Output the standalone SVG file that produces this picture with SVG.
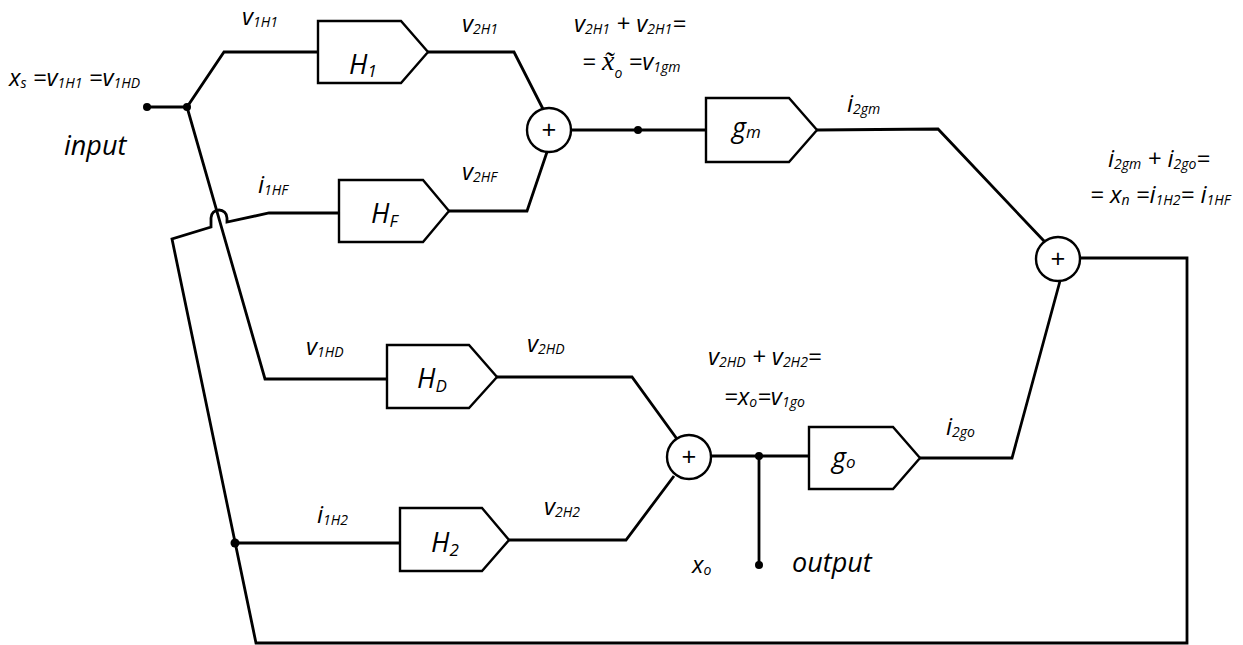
<svg xmlns="http://www.w3.org/2000/svg" width="1243" height="645" viewBox="0 0 1243 645">
<style>
.w{fill:none;stroke:#000;stroke-width:2.8;stroke-linejoin:miter}
.b{fill:#fff;stroke:#000;stroke-width:2.4}
.c{fill:#fff;stroke:#000;stroke-width:2.4}
.t{font-family:"Open Sans","Liberation Sans",sans-serif;font-style:italic;font-size:24px;fill:#000}
.s{font-size:14px}
.big{font-size:27px}
.bs{font-size:17px}
.lbl{font-family:"Open Sans","Liberation Sans",sans-serif;font-style:italic;font-size:27px;fill:#000}
.p{font-family:"Open Sans","Liberation Sans",sans-serif;font-size:26px;fill:#000;text-anchor:middle}
.ser{font-family:"Liberation Serif",serif;font-style:italic;font-size:28px}
</style>
<rect width="1243" height="645" fill="#fff"/>
<g id="connectors">
  <path class="w" d="M147,107 L187,107 L224,52 L318,52"/>
  <path class="w" d="M187,107 L265,379 L387,379"/>
  <path class="w" d="M339,213 L269,213 L227,222 L227,218 A8,8 0 0 0 211,218 L211,227 L172,239 L256,643 L1187,643 L1187,258 L1081,258"/>
  <path class="w" d="M235,543 L400,543"/>
  <path class="w" d="M428,52 L514,52 L543,109"/>
  <path class="w" d="M449,211 L527,211 L547,152"/>
  <path class="w" d="M571,130 L706,130"/>
  <path class="w" d="M817,130 L938,129 L1044,241"/>
  <path class="w" d="M920,458 L1012,458 L1060,281"/>
  <path class="w" d="M497,377 L632,377 L677,439"/>
  <path class="w" d="M509,540 L626,540 L674,476"/>
  <path class="w" d="M711,456 L809,456"/>
  <path class="w" d="M759,456 L759,565"/>
  <circle cx="147" cy="107" r="4"/>
  <circle cx="187" cy="107" r="4"/>
  <circle cx="638" cy="130" r="4"/>
  <circle cx="759" cy="456" r="4"/>
  <circle cx="759" cy="565" r="4"/>
  <circle cx="235" cy="543" r="4.5"/>
</g>
<g id="H1">
  <path class="b" d="M318,21 L401,21 L428,52 L401,83 L318,83 Z"/>
  <text class="t big" x="349" y="74">H<tspan class="bs" dy="3">1</tspan></text>
</g>
<g id="HF">
  <path class="b" d="M339,180 L423,180 L449,211 L423,242 L339,242 Z"/>
  <text class="t big" x="371" y="223">H<tspan class="bs" dy="4">F</tspan></text>
</g>
<g id="HD">
  <path class="b" d="M387,345 L469,345 L497,377 L469,408 L387,408 Z"/>
  <text class="t big" x="417" y="388">H<tspan class="bs" dy="4">D</tspan></text>
</g>
<g id="H2">
  <path class="b" d="M400,508 L482,508 L509,540 L482,571 L400,571 Z"/>
  <text class="t big" x="431" y="552">H<tspan class="bs" dy="4">2</tspan></text>
</g>
<g id="gm">
  <path class="b" d="M706,98 L789,98 L817,130 L789,162 L706,162 Z"/>
  <text class="t big" x="732" y="137">g<tspan class="bs" dy="1">m</tspan></text>
</g>
<g id="go">
  <path class="b" d="M809,427 L893,427 L920,458 L893,489 L809,489 Z"/>
  <text class="t big" x="832" y="467">g<tspan class="bs" dy="1">o</tspan></text>
</g>
<g id="sum1">
  <circle class="c" cx="549" cy="130" r="22"/>
  <text class="p" x="549" y="139">+</text>
</g>
<g id="sum2">
  <circle class="c" cx="689" cy="457" r="22"/>
  <text class="p" x="689" y="466">+</text>
</g>
<g id="sum3">
  <circle class="c" cx="1058" cy="259" r="22"/>
  <text class="p" x="1058" y="268">+</text>
</g>
<g id="labels">
  <text class="t" x="242" y="25">v<tspan class="s" dy="2">1H1</tspan></text>
  <text class="t" x="9" y="86">x<tspan class="s" dy="2">s</tspan><tspan dy="-2"> =v</tspan><tspan class="s" dy="2">1H1</tspan><tspan dy="-2"> =v</tspan><tspan class="s" dy="2">1HD</tspan></text>
  <text class="lbl" x="64" y="155">input</text>
  <text class="t" x="258" y="193">i<tspan class="s" dy="2">1HF</tspan></text>
  <text class="t" x="462" y="32">v<tspan class="s" dy="2">2H1</tspan></text>
  <text class="t" x="574" y="32">v<tspan class="s" dy="2">2H1</tspan><tspan dy="-2"> + v</tspan><tspan class="s" dy="2">2H1</tspan><tspan dy="-2">=</tspan></text>
  <text class="t" x="582" y="70">= <tspan class="ser">x&#771;</tspan><tspan class="s" dy="8">o</tspan><tspan dy="-8"> =v</tspan><tspan class="s" dy="2">1gm</tspan></text>
  <text class="t" x="462" y="180">v<tspan class="s" dy="2">2HF</tspan></text>
  <text class="t" x="847" y="112">i<tspan class="s" dy="2">2gm</tspan></text>
  <text class="t" x="1108" y="167">i<tspan class="s" dy="2">2gm</tspan><tspan dy="-2"> + i</tspan><tspan class="s" dy="2">2go</tspan><tspan dy="-2">=</tspan></text>
  <text class="t" x="1090" y="203">= x<tspan class="s" dy="2">n</tspan><tspan dy="-2"> =i</tspan><tspan class="s" dy="2">1H2</tspan><tspan dy="-2">= i</tspan><tspan class="s" dy="2">1HF</tspan></text>
  <text class="t" x="306" y="355">v<tspan class="s" dy="2">1HD</tspan></text>
  <text class="t" x="527" y="352">v<tspan class="s" dy="2">2HD</tspan></text>
  <text class="t" x="708" y="365">v<tspan class="s" dy="2">2HD</tspan><tspan dy="-2"> + v</tspan><tspan class="s" dy="2">2H2</tspan><tspan dy="-2">=</tspan></text>
  <text class="t" x="724" y="405">=x<tspan class="s" dy="2">o</tspan><tspan dy="-2">=v</tspan><tspan class="s" dy="2">1go</tspan></text>
  <text class="t" x="544" y="515">v<tspan class="s" dy="2">2H2</tspan></text>
  <text class="t" x="946" y="435">i<tspan class="s" dy="2">2go</tspan></text>
  <text class="t" x="317" y="523">i<tspan class="s" dy="2">1H2</tspan></text>
  <text class="t" x="692" y="573">x<tspan class="s" dy="2">o</tspan></text>
  <text class="lbl" x="792" y="572">output</text>
</g>
</svg>
